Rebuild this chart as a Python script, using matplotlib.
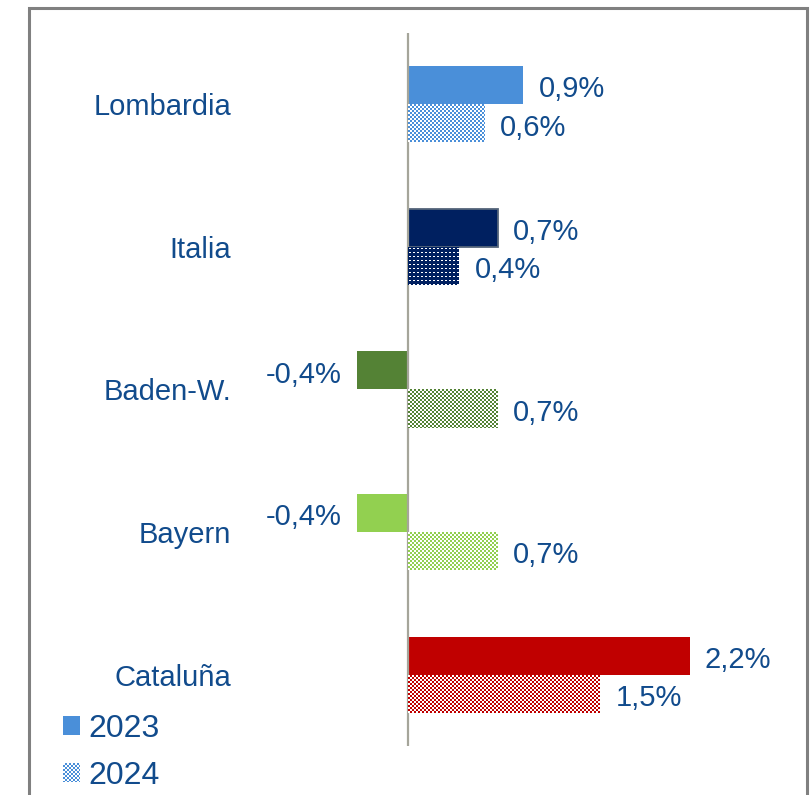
import numpy as np
import matplotlib
matplotlib.use("Agg")
import matplotlib.pyplot as plt
from matplotlib.colors import to_rgb
from matplotlib.image import BboxImage
from matplotlib.patches import Patch, Rectangle
from matplotlib.transforms import Bbox

plt.rcParams['font.family'] = ['Liberation Sans', 'DejaVu Sans']

# data
regions = ['Lombardia', 'Italia', 'Baden-W.', 'Bayern', 'Cataluña']
growth_2023 = [0.9, 0.7, -0.4, -0.4, 2.2]
growth_2024 = [0.6, 0.4, 0.7, 0.7, 1.5]
region_colors = ['#4a8fd9', '#002060', '#548235', '#92d050', '#c00000']
patterns_2024 = ['checker', 'dots', 'checker', 'checker', 'checker']
series_labels = ['2023', '2024']

TEXT_BLUE = '#114b8c'
W, H = 810, 795


def fill_pattern(fig, patch, color, kind, renderer):
    """Paints a pixel pattern (checker / dots) over a patch's area."""
    bb = patch.get_window_extent(renderer)
    x0, y0, x1, y1 = [int(round(v)) for v in (bb.x0, bb.y0, bb.x1, bb.y1)]
    w, h = max(x1 - x0, 1), max(y1 - y0, 1)
    jj, ii = np.meshgrid(np.arange(w), np.arange(h))
    if kind == 'dots':
        white = ((ii % 4) == 1) & ((jj % 4) == 1)
        white |= ((ii % 4) == 1) & ((jj % 4) == 2)
    else:
        white = ((ii // 2 + jj // 2) % 2) == 0
    img = np.ones((h, w, 3))
    img[~white] = to_rgb(color)
    bi = BboxImage(Bbox.from_extents(x0, y0, x1, y1), interpolation='nearest', zorder=6)
    bi.set_data(img)
    fig.add_artist(bi)


fig = plt.figure(figsize=(W / 100, H / 100), dpi=100)
ax = fig.add_axes([280 / W, 49 / H, 520 / W, 713 / H])

y = np.arange(len(regions))
bh = 0.267
bars23 = ax.barh(y - bh / 2, growth_2023, height=bh, color=region_colors, linewidth=0, zorder=2)
bars24 = ax.barh(y + bh / 2, growth_2024, height=bh, color='white', linewidth=0, zorder=2)
# Italia 2023 has a grey outline
bars23[1].set_edgecolor('#55657a')
bars23[1].set_linewidth(1.3)

ax.axvline(0, color='#a5a59a', lw=1.6, zorder=3)

for bars, vals in ((bars23, growth_2023), (bars24, growth_2024)):
    for b, v in zip(bars, vals):
        yc = b.get_y() + b.get_height() / 2
        ax.annotate(f"{v:.1f}%".replace('.', ','), (v, yc),
                    xytext=(11 if v >= 0 else -11, -3), textcoords='offset points',
                    ha='left' if v >= 0 else 'right', va='center',
                    fontsize=21, color=TEXT_BLUE)

ax.set_xlim(-1.0, 3.0625)
ax.set_ylim(len(regions) - 0.5, -0.5)
ax.set_yticks(y)
ax.set_yticklabels(regions, fontsize=21, color=TEXT_BLUE)
ax.tick_params(axis='y', length=0, pad=35)
ax.set_xticks([])
for s in ax.spines.values():
    s.set_visible(False)

handles = [Patch(facecolor=region_colors[0], linewidth=0),
           Patch(facecolor='white', linewidth=0)]
leg = fig.legend(handles, series_labels, loc='upper left',
                 bbox_to_anchor=(63 / W, 1 - 714 / H), frameon=False,
                 borderpad=0, borderaxespad=0, fontsize=23,
                 handlelength=0.53, handleheight=0.53, handletextpad=0.25,
                 labelspacing=0.52, labelcolor=TEXT_BLUE)

# outer frame
fig.add_artist(Rectangle((28.5 / W, -0.05), 778 / W, 1.05 - 7.5 / H,
                         transform=fig.transFigure, fill=False,
                         edgecolor='#808080', lw=2.2))

fig.canvas.draw()
renderer = fig.canvas.get_renderer()
for b, c, k in zip(bars24, region_colors, patterns_2024):
    fill_pattern(fig, b, c, k, renderer)
fill_pattern(fig, leg.get_patches()[1], region_colors[0], 'checker', renderer)

fig.savefig('out.png', dpi=100)
